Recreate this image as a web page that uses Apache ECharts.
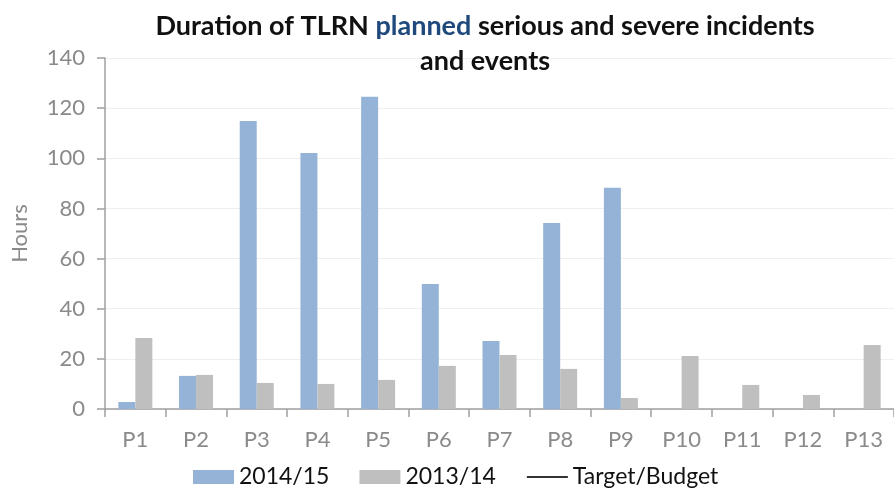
<!DOCTYPE html>
<html>
<head>
<meta charset="utf-8">
<script src="https://cdn.jsdelivr.net/npm/echarts@6/dist/echarts.min.js"></script>
<style>
  html, body { margin: 0; padding: 0; background: #fff; }
  #chart { width: 894px; height: 490px; }
</style>
</head>
<body>
<div id="chart"></div>
<script>
let chart = echarts.init(document.getElementById('chart'));

// data
const periods = ['P1', 'P2', 'P3', 'P4', 'P5', 'P6', 'P7', 'P8', 'P9', 'P10', 'P11', 'P12', 'P13'];
const hours1415 = [2.8, 13.2, 114.9, 102.1, 124.5, 49.9, 27.1, 74.2, 88.2, null, null, null, null];
const hours1314 = [28.3, 13.6, 10.4, 10, 11.6, 17.2, 21.5, 16, 4.4, 21.1, 9.6, 5.6, 25.5];
const target = [];

const font = 'Lato, "Open Sans", sans-serif';

let option = {
    animation: false,
    title: {
        text: 'Duration of TLRN {b|planned} serious and severe incidents\nand events',
        left: 480,
        top: 4,
        textAlign: 'center',
        textStyle: {
            fontFamily: font,
            fontSize: 27,
            fontWeight: 'bold',
            color: '#111',
            lineHeight: 35,
            rich: {
                b: {fontFamily: font, fontSize: 27, fontWeight: 'bold', color: '#1f497d', lineHeight: 35}
            }
        }
    },
    legend: {
        top: 464,
        left: 193,
        itemWidth: 41,
        itemHeight: 14,
        itemGap: 30,
        padding: 0,
        textStyle: {fontFamily: font, fontSize: 23, color: '#111', lineHeight: 26},
        data: [
            {name: '2014/15', icon: 'rect'},
            {name: '2013/14', icon: 'rect'},
            {name: 'Target/Budget', itemStyle: {color: 'rgba(0,0,0,0)', borderColor: 'rgba(0,0,0,0)'}}
        ]
    },
    grid: {
        left: 105,
        top: 58,
        width: 795,
        height: 351
    },
    xAxis: {
        type: 'category',
        data: periods,
        axisLine: {lineStyle: {color: '#a0a0a0', width: 1.5}},
        axisTick: {show: true, length: 8, lineStyle: {color: '#a0a0a0', width: 1.5}},
        axisLabel: {fontFamily: font, fontSize: 22, color: '#8a8a8a', margin: 20}
    },
    yAxis: {
        type: 'value',
        min: 0,
        max: 140,
        interval: 20,
        name: 'Hours',
        nameLocation: 'middle',
        nameGap: 74,
        nameTextStyle: {fontFamily: font, fontSize: 22, color: '#8a8a8a'},
        axisLine: {show: true, lineStyle: {color: '#a0a0a0', width: 1.5}},
        axisTick: {show: true, length: 8, lineStyle: {color: '#a0a0a0', width: 1.5}},
        axisLabel: {fontFamily: font, fontSize: 22, color: '#8a8a8a', margin: 20},
        splitLine: {lineStyle: {color: '#efefef', width: 1}}
    },
    series: [
        {
            name: '2014/15',
            type: 'bar',
            data: hours1415,
            barWidth: 17,
            barGap: '0%',
            itemStyle: {color: '#95b3d7'}
        },
        {
            name: '2013/14',
            type: 'bar',
            data: hours1314,
            barWidth: 17,
            barGap: '0%',
            itemStyle: {color: '#bfbfbf'}
        },
        {
            name: 'Target/Budget',
            type: 'line',
            data: target,
            symbol: 'none',
            itemStyle: {color: '#333'},
            lineStyle: {color: '#333', width: 1}
        }
    ]
};

chart.setOption(option);
</script>
</body>
</html>
